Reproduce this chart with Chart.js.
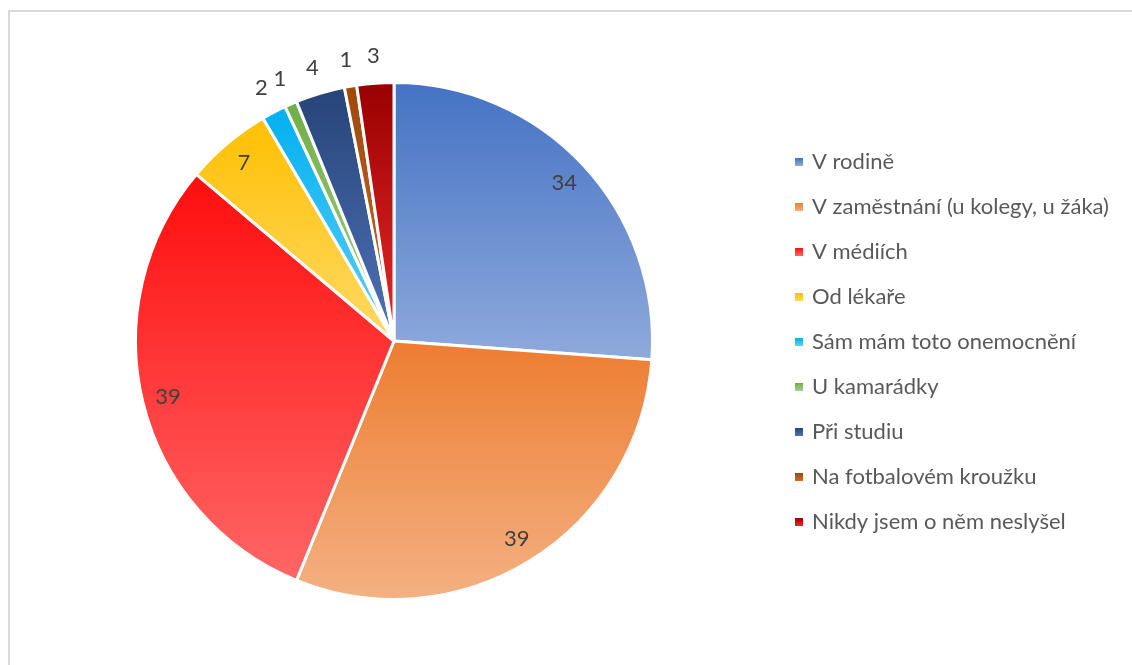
<!DOCTYPE html>
<html lang="cs">
<head>
<meta charset="UTF-8">
<title>Kde jste se setkal s onemocněním</title>
<script src="https://cdn.jsdelivr.net/npm/chart.js"></script>
<style>
    html, body { margin: 0; padding: 0; background: #fff; overflow: hidden; }
    /* ramecek grafu jako v Excelu */
    .ramecek { position: absolute; left: 8px; top: 10px; width: 1140px; height: 700px; border: 2px solid #d9d9d9; box-sizing: border-box; }
    #graf { position: absolute; left: 0; top: 0; }
</style>
</head>
<body>
<div class="ramecek"></div>
<canvas id="graf" width="1132" height="665"></canvas>
<script>
// data grafu
var kategorie = [
    "V rodině",
    "V zaměstnání (u kolegy, u žáka)",
    "V médiích",
    "Od lékaře",
    "Sám mám toto onemocnění",
    "U kamarádky",
    "Při studiu",
    "Na fotbalovém kroužku",
    "Nikdy jsem o něm neslyšel"
];
var hodnoty = [34, 39, 39, 7, 2, 1, 4, 1, 3];

// barvy - prechod shora dolu
var barvyNahore = ["#4472c4", "#ed7d31", "#ff0d0d", "#ffc000", "#00b0f0", "#70ad47", "#264478", "#9e480e", "#990000"];
var barvyDole   = ["#8faadc", "#f4b183", "#ff6666", "#ffd966", "#5fd0f8", "#a9d18e", "#4f72b8", "#d06a28", "#e82a2a"];

var soucet = hodnoty.reduce(function (a, b) { return a + b; }, 0);

// svisly prechod pro kazdy dilek podle jeho vysky
function prechod(context) {
    var i = context.dataIndex;
    var chart = context.chart;
    var area = chart.chartArea;
    if (!area) return barvyNahore[i];
    var cx = (area.left + area.right) / 2;
    var cy = (area.top + area.bottom) / 2;
    var r = Math.min(area.right - area.left, area.bottom - area.top) / 2;
    var pred = 0;
    for (var k = 0; k < i; k++) pred += hodnoty[k];
    var a0 = pred / soucet * 2 * Math.PI - Math.PI / 2;
    var a1 = (pred + hodnoty[i]) / soucet * 2 * Math.PI - Math.PI / 2;
    var ys = [cy, cy + r * Math.sin(a0), cy + r * Math.sin(a1)];
    if (a0 < Math.PI / 2 && a1 > Math.PI / 2) ys.push(cy + r);
    var y0 = Math.min.apply(null, ys);
    var y1 = Math.max.apply(null, ys);
    if (y1 - y0 < 1) y1 = y0 + 1;
    var g = chart.ctx.createLinearGradient(0, y0, 0, y1);
    g.addColorStop(0, barvyNahore[i]);
    g.addColorStop(1, barvyDole[i]);
    return g;
}

var pismo = "Lato, 'Liberation Sans', sans-serif";

// popisky hodnot (uvnitr velkych dilku, venku u malych)
var popisky = {
    id: "popisky",
    afterDatasetsDraw: function (chart) {
        var ctx = chart.ctx;
        var meta = chart.getDatasetMeta(0);
        ctx.save();
        ctx.font = "22px " + pismo;
        ctx.fillStyle = "#404040";
        ctx.textAlign = "center";
        ctx.textBaseline = "middle";
        meta.data.forEach(function (arc, i) {
            var mid = (arc.startAngle + arc.endAngle) / 2;
            var d = hodnoty[i] >= 5 ? arc.outerRadius * 0.9 : arc.outerRadius + 27;
            ctx.fillText(String(hodnoty[i]), arc.x + Math.cos(mid) * d, arc.y + Math.sin(mid) * d);
        });
        ctx.restore();
    }
};

// legenda vpravo
var legenda = {
    id: "legenda",
    afterDraw: function (chart) {
        var ctx = chart.ctx;
        var area = chart.chartArea;
        var cy = (area.top + area.bottom) / 2 + 1;
        var krok = 45;
        var y0 = cy - (kategorie.length - 1) / 2 * krok;
        ctx.save();
        ctx.font = "22px " + pismo;
        ctx.textBaseline = "middle";
        ctx.textAlign = "left";
        kategorie.forEach(function (nazev, i) {
            var y = y0 + i * krok;
            var g = ctx.createLinearGradient(0, y - 4, 0, y + 4);
            g.addColorStop(0, barvyNahore[i]);
            g.addColorStop(1, barvyDole[i]);
            ctx.fillStyle = g;
            ctx.fillRect(795, y - 4, 8, 8);
            ctx.fillStyle = "#595959";
            ctx.fillText(nazev, 812, y);
        });
        ctx.restore();
    }
};

new Chart(document.getElementById("graf"), {
    type: "pie",
    data: {
        labels: kategorie,
        datasets: [{
            data: hodnoty,
            backgroundColor: prechod,
            borderColor: "#ffffff",
            borderWidth: 3
        }]
    },
    options: {
        responsive: false,
        animation: false,
        layout: { padding: { left: 134, right: 478, top: 81, bottom: 64 } },
        plugins: {
            legend: { display: false },
            tooltip: { enabled: false }
        }
    },
    plugins: [popisky, legenda]
});
</script>
</body>
</html>
